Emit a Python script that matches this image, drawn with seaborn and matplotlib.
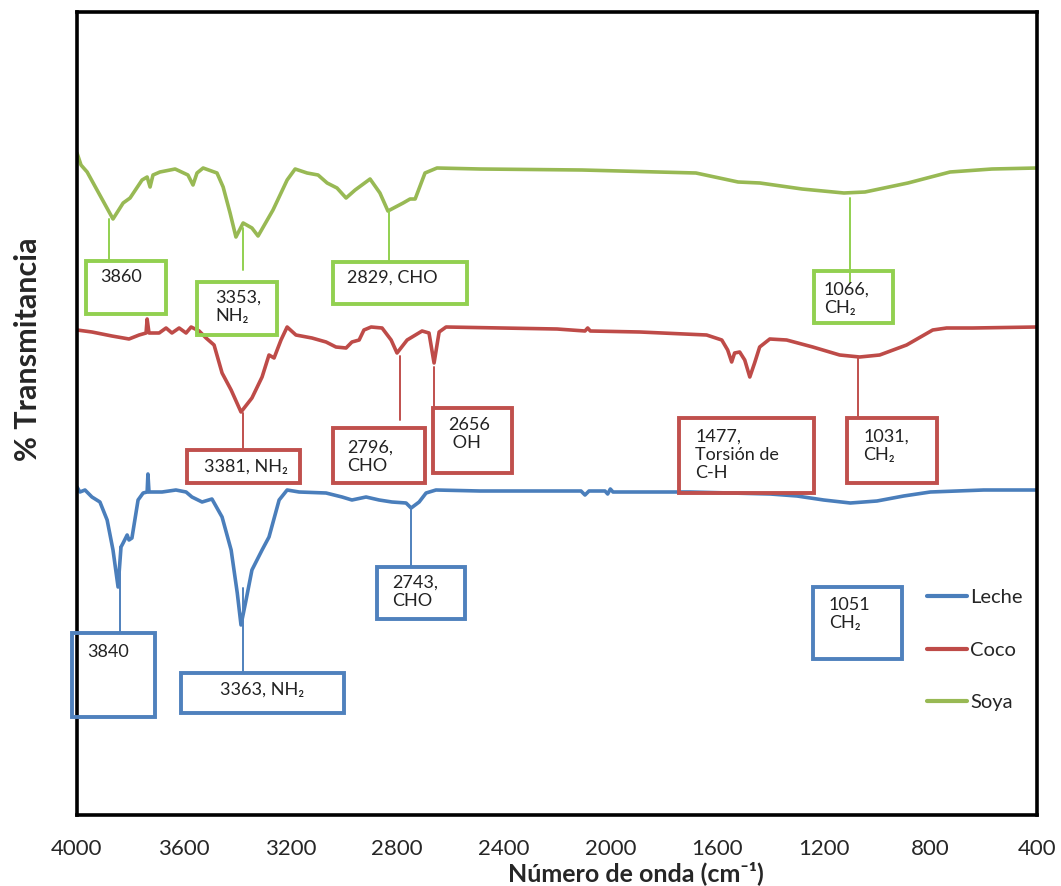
import pandas as pd
import matplotlib.pyplot as plt
import seaborn as sns
from matplotlib.patches import Rectangle

# FTIR spectra (wavenumber cm-1, transmittance in arbitrary offset units)
soya_wn = [4000, 3985, 3962, 3865, 3827, 3801, 3756, 3737, 3726, 3715, 3689, 3632, 3584, 3565,
           3550, 3527, 3475, 3452, 3426, 3404, 3377, 3344, 3321, 3265, 3212, 3182, 3137, 3096,
           3062, 3025, 2991, 2957, 2901, 2864, 2834, 2777, 2751, 2732, 2695, 2650, 2489, 2106,
           1679, 1521, 1439, 1281, 1124, 1045, 884, 726, 569, 400]
soya_t = [66.2, 65.0, 64.3, 59.6, 61.2, 61.7, 63.5, 63.8, 62.8, 64.0, 64.3, 64.6, 64.0, 63.0,
          64.2, 64.7, 64.2, 62.8, 60.2, 57.8, 59.2, 58.7, 57.9, 60.5, 63.5, 64.6, 64.2, 64.0,
          63.2, 62.7, 61.7, 62.5, 63.6, 62.2, 60.4, 61.2, 61.6, 61.6, 64.2, 64.7, 64.6, 64.5,
          64.2, 63.3, 63.2, 62.6, 62.2, 62.3, 63.2, 64.3, 64.6, 64.7]

coco_wn = [4000, 3944, 3869, 3805, 3767, 3741, 3737, 3730, 3692, 3666, 3644, 3617, 3591, 3572,
           3542, 3516, 3486, 3456, 3422, 3385, 3344, 3306, 3280, 3261, 3235, 3212, 3179, 3119,
           3066, 3029, 2991, 2969, 2942, 2924, 2897, 2856, 2822, 2800, 2762, 2706, 2680, 2661,
           2642, 2616, 2200, 2095, 2085, 2075, 1889, 1639, 1582, 1560, 1545, 1534, 1515, 1496,
           1477, 1459, 1440, 1402, 1339, 1241, 1140, 1065, 990, 889, 791, 739, 641, 400]
coco_t = [48.5, 48.3, 47.9, 47.6, 48.0, 48.2, 49.6, 48.2, 48.2, 48.7, 48.2, 48.7, 48.2, 48.8,
          48.4, 47.7, 47.0, 44.2, 42.5, 40.3, 41.7, 43.8, 46.0, 45.7, 47.5, 48.8, 48.0, 47.7,
          47.3, 46.8, 46.7, 47.3, 47.5, 48.5, 48.8, 48.7, 47.5, 46.2, 47.5, 48.4, 48.2, 45.2,
          48.3, 48.8, 48.6, 48.4, 48.7, 48.4, 48.3, 48.0, 47.5, 46.5, 45.3, 46.2, 46.3, 45.5,
          43.8, 45.2, 46.8, 47.6, 47.5, 46.8, 46.0, 45.8, 46.0, 47.0, 48.5, 48.7, 48.7, 48.8]

leche_wn = [4000, 3989, 3970, 3944, 3914, 3887, 3865, 3846, 3835, 3827, 3812, 3805, 3794, 3771,
            3752, 3737, 3734, 3730, 3681, 3629, 3591, 3569, 3531, 3494, 3456, 3422, 3399, 3385,
            3366, 3344, 3306, 3280, 3242, 3212, 3167, 3066, 3006, 2969, 2916, 2867, 2819, 2766,
            2747, 2717, 2691, 2654, 2489, 2110, 2095, 2080, 2020, 2010, 2000, 1990, 1700, 1400,
            1300, 1200, 1100, 1000, 900, 800, 600, 400]
leche_t = [32.8, 32.3, 32.5, 31.8, 31.3, 29.5, 26.5, 22.8, 26.8, 27.2, 28.0, 27.5, 27.7, 31.5,
           32.2, 32.3, 34.1, 32.3, 32.3, 32.5, 32.3, 31.8, 31.3, 31.6, 29.8, 26.5, 22.2, 19.0,
           21.5, 24.5, 26.5, 27.8, 31.5, 32.5, 32.3, 32.2, 31.8, 31.5, 31.8, 31.5, 31.3, 31.2,
           30.7, 31.3, 32.2, 32.5, 32.4, 32.4, 32.0, 32.4, 32.4, 32.1, 32.6, 32.3, 32.3, 32.1,
           31.9, 31.5, 31.2, 31.4, 31.9, 32.3, 32.5, 32.5]

colors = {'Leche': '#4A7EBB', 'Coco': '#BE4B48', 'Soya': '#98B954'}
box_colors = {'Leche': '#4F81BD', 'Coco': '#C0504D', 'Soya': '#92D050'}

# annotations: series, text, box (wn_left, wn_right, y_top, y_bottom), text pos, leader (wn, y0, y1)
annotations = [
    ('Soya', '3860', (3966, 3666, 55.4, 50.1), (3914, 54.6), (3880, 59.6, 55.4)),
    ('Soya', '3353,\nNH₂', (3550, 3250, 53.3, 48.0), (3482, 52.5), (3377, 58.7, 54.5)),
    ('Soya', '2829, CHO', (3040, 2537, 55.3, 51.1), (2987, 54.5), (2830, 60.4, 55.3)),
    ('Soya', '1066,\nCH₂', (1236, 940, 54.4, 49.2), (1199, 53.3), (1101, 61.7, 53.3)),
    ('Coco', '3381, NH₂', (3587, 3164, 36.5, 33.2), (3524, 35.6), (3377, 40.2, 36.5)),
    ('Coco', '2796,\nCHO', (3040, 2695, 38.7, 33.2), (2987, 37.5), (2789, 45.9, 39.5)),
    ('Coco', '2656\n OH', (2665, 2369, 40.7, 34.2), (2609, 39.8), (2661, 44.8, 40.7)),
    ('Coco', '1477,\nTorsión de\nC-H', (1742, 1236, 39.7, 32.2), (1682, 38.6), None),
    ('Coco', '1031,\nCH₂', (1112, 775, 39.7, 33.2), (1052, 38.6), (1071, 45.8, 39.7)),
    ('Leche', '3840', (4019, 3707, 18.2, 9.8), (3962, 17.1), (3839, 26.8, 18.2)),
    ('Leche', '3363, NH₂', (3610, 2999, 14.2, 10.2), (3464, 13.3), (3377, 22.7, 14.2)),
    ('Leche', '2743,\nCHO', (2875, 2545, 24.8, 19.6), (2819, 24.0), (2747, 30.7, 24.8)),
    ('Leche', '1051\nCH₂', (1240, 906, 22.8, 15.6), (1180, 21.8), None),
]

df = pd.concat([
    pd.DataFrame({'wn': leche_wn, 't': leche_t, 'muestra': 'Leche'}),
    pd.DataFrame({'wn': coco_wn, 't': coco_t, 'muestra': 'Coco'}),
    pd.DataFrame({'wn': soya_wn, 't': soya_t, 'muestra': 'Soya'}),
])

sns.set_style('white')
plt.rcParams['font.family'] = ['Lato', 'DejaVu Sans']

fig = plt.figure(figsize=(10.61, 8.86), dpi=100)
ax = fig.add_axes([77 / 1061, 71 / 886, 960 / 1061, 803 / 886])

sns.lineplot(data=df, x='wn', y='t', hue='muestra', palette=colors, estimator=None,
             linewidth=2.6, ax=ax)

for name, text, box, tpos, leader in annotations:
    x0, x1, yt, yb = box
    ax.add_patch(Rectangle((min(x0, x1), yb), abs(x1 - x0), yt - yb, fill=False,
                           edgecolor=box_colors[name], linewidth=2.8,
                           clip_on=False, zorder=3))
    ax.text(tpos[0], tpos[1], text, ha='left', va='top', fontsize=13, color='#222222',
            linespacing=1.15, zorder=4)
    if leader is not None:
        ax.plot([leader[0], leader[0]], [leader[1], leader[2]], color=box_colors[name],
                linewidth=1.4, zorder=2)

ax.set_xlim(4000, 400)
ax.set_ylim(0, 80.3)
ax.set_xticks(range(4000, 399, -400))
ax.set_yticks([])
ax.tick_params(axis='x', direction='in', length=8, width=0.8, color='#888888',
               labelsize=16, pad=17)
for s in ax.spines.values():
    s.set_visible(True)
    s.set_color('black')
    s.set_linewidth(2.6)

ax.set_xlabel('Número de onda (cm⁻¹)', fontsize=18, fontweight='bold')
ax.xaxis.set_label_coords(0.582, -0.057)
ax.set_ylabel('% Transmitancia', fontsize=22, fontweight='bold')
ax.yaxis.set_label_coords(-0.036, 0.58)

leg = ax.legend(loc='upper left', bbox_to_anchor=(0.885, 0.281), frameon=False,
                fontsize=14.5, labelspacing=1.75, handlelength=2.0, handletextpad=0.15,
                borderpad=0, borderaxespad=0)
for line in leg.get_lines():
    line.set_linewidth(3)

fig.savefig('out.png', dpi=100)
